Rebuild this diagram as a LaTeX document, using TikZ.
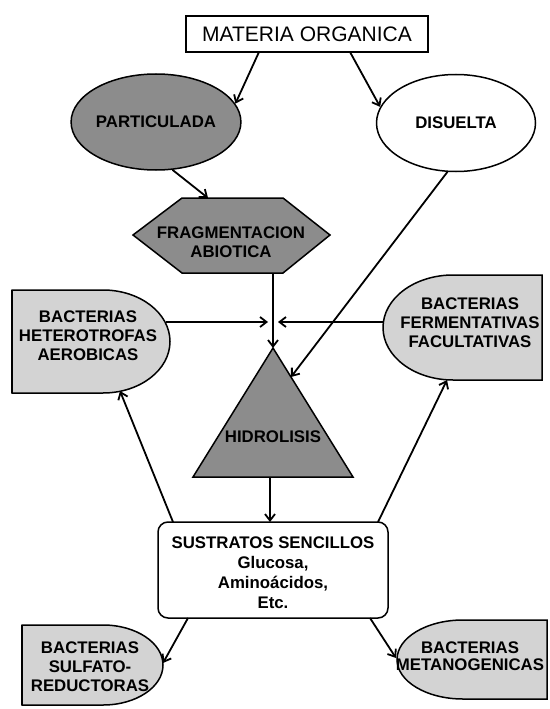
\documentclass[tikz,border=0pt]{standalone}
\usepackage{fontspec}
\setmainfont{Liberation Sans}
\usetikzlibrary{arrows.meta,shapes.geometric}
\definecolor{darkfill}{HTML}{8C8C8C}
\definecolor{lightfill}{HTML}{D3D3D3}
\begin{document}
\begin{tikzpicture}[x=1bp,y=-1bp,
  conn/.style={line width=1.8bp,-{Straight Barb[length=6.5bp,width=10bp,line width=1.8bp]}},
  border/.style={draw=black,line width=1.5bp},
  lbl/.style={font=\bfseries\fontsize{16.8bp}{19bp}\selectfont,align=center,inner sep=0pt},
  oval/.style={border,ellipse,inner sep=0pt,font=\bfseries\fontsize{16.8bp}{19bp}\selectfont}]
\useasboundingbox (0,0) rectangle (550,709);

% MATERIA ORGANICA
\node[border,minimum width=242bp,minimum height=36bp,inner sep=0pt,
      font=\fontsize{21bp}{24bp}\selectfont] (mo) at (307,34) {MATERIA ORGANICA};
\coordinate (mo-l) at (259,52);
\coordinate (mo-r) at (350,52);

% ellipses
\node[oval,fill=darkfill,minimum width=158bp,minimum height=96bp] (part) at (156,122) {PARTICULADA};
\node[oval,fill=white,minimum width=159bp,minimum height=97bp] (dis) at (456,123) {DISUELTA};

% hexagon
\draw[border,fill=darkfill] (133,235) -- (182,198) -- (283,198) -- (330,235) -- (283,273) -- (182,273) -- cycle;
\node[lbl] (frag) at (231,242) {FRAGMENTACION\\ABIOTICA};
\coordinate (frag-in) at (208,198);
\coordinate (frag-out) at (273,273);

% triangle
\draw[border,fill=darkfill] (273,348) -- (353,477) -- (193,477) -- cycle;
\node[lbl] (hid) at (273,437) {HIDROLISIS};
\coordinate (tri-top) at (273,348);
\coordinate (tri-r) at (291,377);
\coordinate (tri-bot) at (270,477);
\coordinate (tri-l) at (268,322);
\coordinate (tri-rr) at (278,322);

% heterotrofas
\draw[border,fill=lightfill] (12,290) -- (103,290)
  .. controls (140,290) and (170,313.1) .. (170,341.5)
  .. controls (170,369.9) and (140,393) .. (103,393) -- (12,393) -- cycle;
\draw[line width=2.8bp] (12,290) -- (12,393);
\node[lbl] (het) at (88,336) {BACTERIAS\\HETEROTROFAS\\AEROBICAS};
\coordinate (het-a) at (166,322);
\coordinate (het-b) at (120,391);

% fermentativas
\draw[border,fill=lightfill] (542,275) -- (453,275)
  .. controls (414.3,275) and (383,298.5) .. (383,327.5)
  .. controls (383,356.5) and (414.3,380) .. (453,380) -- (542,380) -- cycle;
\node[lbl] (ferm) at (470,322.5) {BACTERIAS\\FERMENTATIVAS\\FACULTATIVAS};
\coordinate (ferm-a) at (383,322);
\coordinate (ferm-b) at (447,380);

% sulfato-reductoras
\draw[border,fill=lightfill] (22,625) -- (103,625)
  .. controls (136.1,625) and (163,642.9) .. (163,665)
  .. controls (163,687.1) and (136.1,705) .. (103,705) -- (22,705) -- cycle;
\draw[line width=2.8bp] (22,625) -- (22,705);
\node[lbl] (sul) at (90,667) {BACTERIAS\\SULFATO-\\REDUCTORAS};
\coordinate (sul-a) at (163,663);

% metanogenicas
\draw[border,fill=lightfill] (547,620) -- (463,620)
  .. controls (426.5,620) and (397,637.7) .. (397,659.5)
  .. controls (397,681.3) and (426.5,699) .. (463,699) -- (547,699) -- cycle;
\node[lbl,font=\bfseries\fontsize{16.8bp}{17.5bp}\selectfont] (met) at (470,656) {BACTERIAS\\METANOGENICAS};
\coordinate (met-a) at (396,658);

% sustratos
\node[border,rounded corners=10bp,minimum width=230bp,minimum height=96bp] (sub) at (273,570) {};
\node[lbl,font=\bfseries\fontsize{16.8bp}{20bp}\selectfont] (subt) at (273,573) {SUSTRATOS SENCILLOS\\Glucosa,\\Aminoácidos,\\Etc.};
\coordinate (sub-nw) at (173,522);
\coordinate (sub-ne) at (378,522);
\coordinate (sub-sw) at (188,618);
\coordinate (sub-se) at (370,618);
\coordinate (sub-top) at (270,522);

% connectors
\draw[conn] (mo-l) -- (part.13);
\draw[conn] (mo-r) -- (dis.168);
\draw[conn] (part.-71) -- (frag-in);
\draw[conn] (frag-out) -- (tri-top);
\draw[conn] (dis.-100) -- (tri-r);
\draw[conn] (het-a) -- (tri-l);
\draw[conn] (ferm-a) -- (tri-rr);
\draw[conn] (tri-bot) -- (sub-top);
\draw[conn] (sub-nw) -- (het-b);
\draw[conn] (sub-ne) -- (ferm-b);
\draw[conn] (sub-sw) -- (sul-a);
\draw[conn] (sub-se) -- (met-a);
\end{tikzpicture}
\end{document}
